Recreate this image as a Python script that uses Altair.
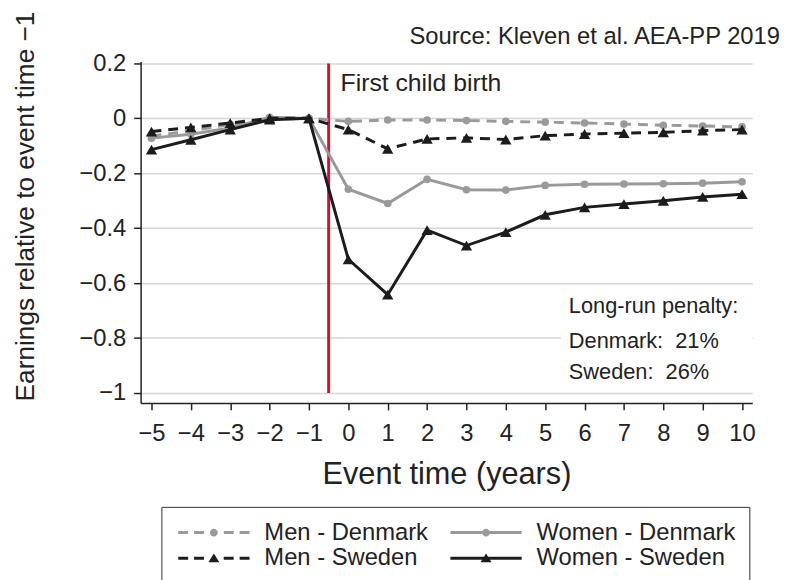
import altair as alt
import pandas as pd

# ---------------- data ----------------
event_time = [-5, -4, -3, -2, -1, 0, 1, 2, 3, 4, 5, 6, 7, 8, 9, 10]
men_denmark = [-0.065, -0.045, -0.022, -0.003, 0.0, -0.011, -0.006, -0.006, -0.008,
               -0.011, -0.014, -0.017, -0.021, -0.025, -0.028, -0.031]
women_denmark = [-0.072, -0.058, -0.035, 0.004, 0.0, -0.258, -0.310, -0.222, -0.260,
                 -0.261, -0.244, -0.240, -0.239, -0.238, -0.236, -0.231]
men_sweden = [-0.048, -0.033, -0.017, 0.0, 0.0, -0.041, -0.111, -0.075, -0.071,
              -0.077, -0.063, -0.057, -0.054, -0.051, -0.045, -0.041]
women_sweden = [-0.114, -0.078, -0.041, -0.005, 0.0, -0.513, -0.642, -0.407, -0.463,
                -0.414, -0.351, -0.324, -0.312, -0.300, -0.286, -0.276]
series_names = ["Men - Denmark", "Women - Denmark", "Men - Sweden", "Women - Sweden"]
series_values = [men_denmark, women_denmark, men_sweden, women_sweden]

x_ticks = event_time
y_ticks = [0.2, 0, -0.2, -0.4, -0.6, -0.8, -1]
event_line_x = [-0.5]
event_line_y = [0.2, -1.0]
event_label = ["First child birth"]
event_label_y = [0.13]
penalty_lines = ["Long-run penalty:", "Denmark:\u00a0 21%", "Sweden:\u00a0 26%"]
penalty_x = [5.6]
penalty_y = [-0.685, -0.8115, -0.925]
penalty_box_x = [5.4, 10.26]
penalty_box_y = [-0.63, -0.97]
source_text = "Source: Kleven et al. AEA-PP 2019"
x_title = "Event time (years)"
y_title = "Earnings relative to event time \u22121"

# ---------------- styles ----------------
FONT = "Liberation Sans"
TXT = "#222222"
GRAY = "#9a9a9a"
BLACK = "#1c1c1c"
RED = "#cc1236"
colors = [GRAY, GRAY, BLACK, BLACK]
dashes = [[10, 7], None, [10, 7], None]
shapes = ["circle", "circle", "triangle-up", "triangle-up"]
sizes = [60, 60, 130, 130]

X_DOMAIN = [-5.276, 10.26]
Y_DOMAIN = [-1.036, 0.207]


def rect(a, b):
    return f"M{a},-1.5L{b},-1.5L{b},1.5L{a},1.5Z"


CIRCLE = "M4,0A4,4 0 1,1 -4,0A4,4 0 1,1 4,0Z"
TRIANGLE = "M0,-5L5.5,4L-5.5,4Z"
DASHED = "".join(rect(a, b) for a, b in [(-36, -26), (-20, -10), (10, 20), (26, 36)])
SOLID = rect(-36, -2) + rect(2, 36)
legend_paths = [DASHED + CIRCLE, SOLID + CIRCLE, DASHED + TRIANGLE, SOLID + TRIANGLE]

xaxis = alt.Axis(values=x_ticks, format="d", grid=False, labelFontSize=24,
                 labelPadding=12, labelFlush=False, labelOverlap=False,
                 titleFontSize=31, titleY=81, titleBaseline="alphabetic")
yaxis = alt.Axis(values=y_ticks, format="~g", grid=True, labelFontSize=24,
                 labelPadding=8, labelFlush=False, labelOverlap=False,
                 titleFontSize=26.5, titleX=-108.7, titleY=146, titleAngle=270,
                 titleAlign="center", titleBaseline="alphabetic")


def X(field):
    return alt.X(field, type="quantitative", scale=alt.Scale(domain=X_DOMAIN, nice=False, zero=False),
                 axis=xaxis, title=x_title)


def Y(field):
    return alt.Y(field, type="quantitative", scale=alt.Scale(domain=Y_DOMAIN, nice=False, zero=False),
                 axis=yaxis, title=y_title)


rows = []
for name, vals in zip(series_names, series_values):
    for t, v in zip(event_time, vals):
        rows.append({"series": name, "t": t, "v": v})
df = pd.DataFrame(rows)

layers = []

# white box behind the penalty note
box_df = pd.DataFrame({"t": [penalty_box_x[0]], "t2": [penalty_box_x[1]],
                       "v": [penalty_box_y[0]], "v2": [penalty_box_y[1]]})
layers.append(alt.Chart(box_df).mark_rect(color="white").encode(
    x=X("t"), x2="t2", y=Y("v"), y2="v2"))

# event line
rule_df = pd.DataFrame({"t": event_line_x, "v": [event_line_y[0]], "v2": [event_line_y[1]]})
layers.append(alt.Chart(rule_df).mark_rule(color=RED, strokeWidth=3).encode(
    x=X("t"), y=Y("v"), y2="v2"))

# series
for name, col, dash, shp, sz in zip(series_names, colors, dashes, shapes, sizes):
    sdf = df[df["series"] == name]
    line_kw = dict(color=col, strokeWidth=3)
    if dash:
        line_kw["strokeDash"] = dash
    layers.append(alt.Chart(sdf).mark_line(**line_kw).encode(x=X("t"), y=Y("v")))
    layers.append(alt.Chart(sdf).mark_point(filled=True, shape=shp, size=sz, color=col,
                                            opacity=1, strokeWidth=0).encode(x=X("t"), y=Y("v")))

# annotations
ev_df = pd.DataFrame({"t": event_line_x, "v": event_label_y, "txt": event_label})
layers.append(alt.Chart(ev_df).mark_text(align="left", baseline="middle", dx=12, fontSize=25,
                                         font=FONT, color=TXT).encode(
    x=X("t"), y=Y("v"), text="txt"))
pen_df = pd.DataFrame({"t": penalty_x * len(penalty_lines), "v": penalty_y, "txt": penalty_lines})
layers.append(alt.Chart(pen_df).mark_text(align="left", baseline="middle", fontSize=22,
                                          font=FONT, color=TXT).encode(
    x=X("t"), y=Y("v"), text="txt"))

# legend-only layer (draws nothing, carries the legend)
leg = alt.Legend(orient="none", legendX=21, legendY=450, columns=2, direction="horizontal",
                 title=None, symbolSize=4, symbolStrokeWidth=0, symbolOffset=27,
                 labelOffset=39, labelFontSize=24, labelFont=FONT, labelColor=TXT,
                 labelLimit=400, strokeColor="#333333", padding=14, rowPadding=2,
                 columnPadding=19, symbolOpacity=1)
layers.append(alt.Chart(df).transform_filter("false").mark_point(filled=True, opacity=1).encode(
    x=X("t"), y=Y("v"),
    fill=alt.Fill("series:N", scale=alt.Scale(domain=series_names, range=colors), legend=leg),
    shape=alt.Shape("series:N", scale=alt.Scale(domain=series_names, range=legend_paths), legend=leg),
))

chart = alt.layer(*layers).properties(
    width=618, height=345,
    padding={"left": 134, "top": 51, "right": 28, "bottom": 190},
    autosize=alt.AutoSizeParams(type="none"),
    title=alt.Title(source_text, anchor="end", frame="group", fontSize=24, font=FONT,
                    fontWeight="normal", color=TXT, dx=28, dy=67, offset=10,
                    baseline="alphabetic"),
    background="white",
).configure_view(stroke=None).configure_axis(
    labelFont=FONT, titleFont=FONT, labelColor=TXT, titleColor=TXT,
    domainColor=TXT, tickColor=TXT, domainWidth=1.5, tickWidth=1.5, tickSize=7,
    gridColor="#d6d6d6", gridWidth=1.5, titleFontWeight="normal",
)

chart.save("out.html", embed_options={"renderer": "svg", "actions": False})
